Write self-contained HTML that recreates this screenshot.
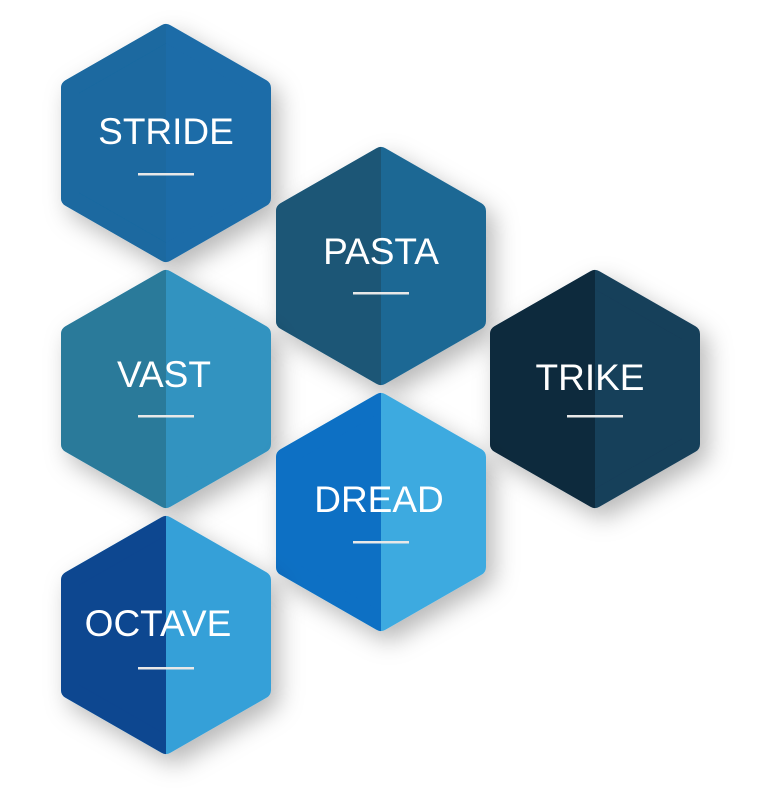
<!DOCTYPE html>
<html><head><meta charset="utf-8"><style>
html,body{margin:0;padding:0;background:#fff;}
svg{display:block}
text{font-family:"Liberation Sans",sans-serif;font-size:37px;fill:#fff;text-anchor:middle}
</style></head><body>
<svg width="768" height="812" viewBox="0 0 768 812" xmlns="http://www.w3.org/2000/svg">
<defs>
<filter id="sh" x="-30%" y="-30%" width="160%" height="160%">
<feDropShadow dx="8" dy="10" stdDeviation="12" flood-color="#000" flood-opacity="0.28"/>
</filter>
<clipPath id="lh" clipPathUnits="objectBoundingBox"><rect x="-0.3" y="-0.3" width="0.8" height="1.6"/></clipPath>
</defs>
<g stroke-width="18" stroke-linejoin="round">
<g filter="url(#sh)"><polygon points="166,33 262,88 262,198 166,253 70,198 70,88" fill="#1b6ca8" stroke="#1b6ca8"/><polygon clip-path="url(#lh)" points="166,33 262,88 262,198 166,253 70,198 70,88" fill="#1a69a0" stroke="#1a69a0"/></g>
<g filter="url(#sh)"><polygon points="381,156 477,211 477,321 381,376 285,321 285,211" fill="#1c6894" stroke="#1c6894"/><polygon clip-path="url(#lh)" points="381,156 477,211 477,321 381,376 285,321 285,211" fill="#1b5676" stroke="#1b5676"/></g>
<g filter="url(#sh)"><polygon points="166,279 262,334 262,444 166,499 70,444 70,334" fill="#3193c0" stroke="#3193c0"/><polygon clip-path="url(#lh)" points="166,279 262,334 262,444 166,499 70,444 70,334" fill="#2a7a9a" stroke="#2a7a9a"/></g>
<g filter="url(#sh)"><polygon points="595,279 691,334 691,444 595,499 499,444 499,334" fill="#163f5a" stroke="#163f5a"/><polygon clip-path="url(#lh)" points="595,279 691,334 691,444 595,499 499,444 499,334" fill="#0c2a3e" stroke="#0c2a3e"/></g>
<g filter="url(#sh)"><polygon points="381,402 477,457 477,567 381,622 285,567 285,457" fill="#3eaae0" stroke="#3eaae0"/><polygon clip-path="url(#lh)" points="381,402 477,457 477,567 381,622 285,567 285,457" fill="#0a6fc4" stroke="#0a6fc4"/></g>
<g filter="url(#sh)"><polygon points="166,525 262,580 262,690 166,745 70,690 70,580" fill="#36a0d8" stroke="#36a0d8"/><polygon clip-path="url(#lh)" points="166,525 262,580 262,690 166,745 70,690 70,580" fill="#0e4690" stroke="#0e4690"/></g>
</g>
<text x="166" y="144">STRIDE</text><rect x="138" y="173" width="56" height="2.5" fill="#e8e8e8"/>
<text x="381" y="264">PASTA</text><rect x="353" y="292" width="56" height="2.5" fill="#e8e8e8"/>
<text x="164" y="387">VAST</text><rect x="138" y="415" width="56" height="2.5" fill="#e8e8e8"/>
<text x="590" y="390">TRIKE</text><rect x="567" y="415" width="56" height="2.5" fill="#e8e8e8"/>
<text x="379" y="512">DREAD</text><rect x="353" y="541" width="56" height="2.5" fill="#e8e8e8"/>
<text x="158" y="636">OCTAVE</text><rect x="138" y="667" width="56" height="2.5" fill="#e8e8e8"/>
</svg>
</body></html>
